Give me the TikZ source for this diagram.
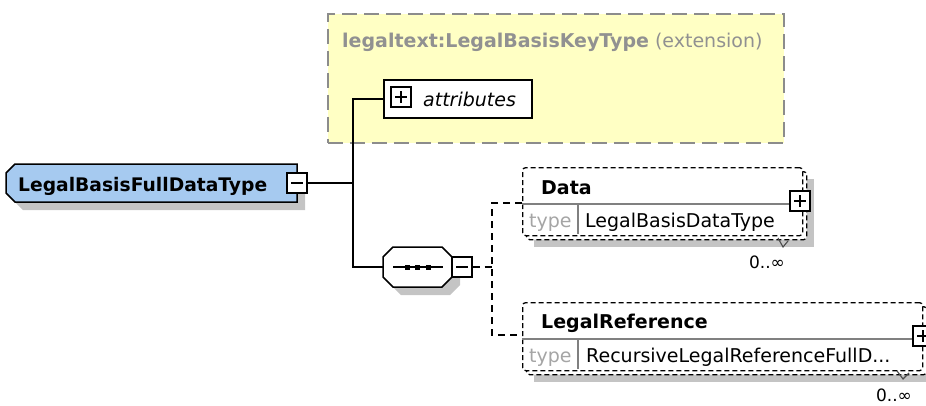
\documentclass[tikz,border=0pt]{standalone}
\usepackage{fontspec}
\setmainfont{DejaVu Sans}
\definecolor{rootblue}{RGB}{166,202,240}
\definecolor{extyellow}{RGB}{255,255,196}
\definecolor{extgray}{RGB}{140,140,140}
\definecolor{titlegray}{RGB}{145,145,145}
\definecolor{shadowgray}{RGB}{196,196,196}
\definecolor{typegray}{RGB}{165,165,165}
\definecolor{divgray}{RGB}{128,128,128}
\tikzset{
  conn/.style={line width=1.5pt, black},
  dconn/.style={line width=1.5pt, black, dash pattern=on 7pt off 5pt},
  elbox/.style={draw, fill=white, line width=1.3pt, dash pattern=on 5pt off 3pt, rounded corners=3pt, anchor=north west, inner sep=0pt},
  divline/.style={line width=1.2pt, divgray},
  txt/.style={anchor=base west, inner sep=0pt, font=\fontsize{19}{22}\selectfont},
  nametxt/.style={txt, font=\fontsize{19}{22}\selectfont\bfseries},
  typetxt/.style={txt, text=typegray},
  occtxt/.style={anchor=center, inner sep=0pt, font=\fontsize{17}{20}\selectfont},
  pmbox/.style={draw, fill=white, line width=1.3pt, minimum size=20pt, inner sep=0pt},
  plusbox/.style={pmbox, path picture={\draw[line width=1.3pt] ([xshift=-6pt]path picture bounding box.center) -- ([xshift=6pt]path picture bounding box.center) ([yshift=-6pt]path picture bounding box.center) -- ([yshift=6pt]path picture bounding box.center);}},
  minusbox/.style={pmbox, path picture={\draw[line width=1.3pt] ([xshift=-6pt]path picture bounding box.center) -- ([xshift=6pt]path picture bounding box.center);}},
  occmark/.style={line width=1.1pt, black!70},
}
\begin{document}
\begin{tikzpicture}[x=1pt,y=-1pt]
\useasboundingbox (0,0) rectangle (926,405);
\clip (0,0) rectangle (926,405);
% extension
\node[draw=extgray, fill=extyellow, line width=1.5pt, dash pattern=on 15pt off 7pt, minimum width=456pt, minimum height=129pt, anchor=north west, inner sep=0pt] (ext) at (327,13) {};
\node[txt, text=titlegray] (exttitle) at (342,47) {{\bfseries legaltext:LegalBasisKeyType} (extension)};
% attributes
\node[draw, fill=white, line width=1.5pt, minimum width=148pt, minimum height=38pt, anchor=north west, inner sep=0pt] (attr) at (383,79) {};
\node[plusbox] (attrplus) at (401,97) {};
\node[txt, font=\fontsize{19}{22}\selectfont\itshape] (attrtxt) at (423,106) {attributes};
% root
\fill[shadowgray] (23,172) -- (305,172) -- (305,210) -- (23,210) -- (14,201) -- (14,181) -- cycle;
\draw[fill=rootblue, line width=1.5pt] (15,164) -- (297,164) -- (297,202) -- (15,202) -- (6,193) -- (6,173) -- cycle;
\node[nametxt, font=\fontsize{18.7}{22}\selectfont\bfseries] (root) at (18,191) {LegalBasisFullDataType};
\node[minusbox] (rootminus) at (297,183) {};
% sequence
\fill[shadowgray] (401,255) -- (450,255) -- (460,265) -- (460,285) -- (450,295) -- (401,295) -- (391,285) -- (391,265) -- cycle;
\node[minimum width=69pt, minimum height=40pt, inner sep=0pt] (seq) at (417.5,267) {};
\draw[fill=white, line width=1.5pt] (393,247) -- (442,247) -- (452,257) -- (452,277) -- (442,287) -- (393,287) -- (383,277) -- (383,257) -- cycle;
\draw[line width=1.5pt] (393,267) -- (443,267);
\foreach \x in {407,417.5,428} \fill (\x-2.5,264.5) rectangle (\x+2.5,269.5);
\node[minusbox] (seqminus) at (462,267) {};
% connectors
\coordinate (j) at (353,183);
\draw[conn] (rootminus.east) -- (j);
\draw[conn] (attr.west) -| (j);
\draw[conn] (seq.west) -| (j);
\coordinate (k) at (492,267);
\coordinate (datain) at (522,203);
\coordinate (refin) at (522,335);
\draw[dconn] (seqminus.east) -- (k);
\draw[dconn] (datain) -| (k) |- (refin);
% Data
\fill[shadowgray] (534,179) rectangle (814,247);
\node[elbox, minimum width=280pt, minimum height=68pt] (databack) at (526,171) {};
\node[elbox, minimum width=280pt, minimum height=68pt] (data) at (522,167) {};
\node[plusbox] (dataplus) at (800,201) {};
\draw[divline] (522,204) -- (dataplus.west |- 0,204);
\draw[divline] (578,204) -- (578,234);
\node[nametxt] (dataname) at (541,194) {Data};
\node[typetxt] (datatype) at (529,227) {type};
\node[txt] (datatypename) at (585,227) {LegalBasisDataType};
\draw[occmark] (778,238) -- (783,247) -- (788,241);
\node[occtxt] (dataocc) at (767,262) {0..∞};
% LegalReference
\fill[shadowgray] (534,314) rectangle (934,382);
\node[elbox, minimum width=400pt, minimum height=68pt] (refback) at (526,306) {};
\node[elbox, minimum width=400pt, minimum height=68pt] (ref) at (522,302) {};
\node[plusbox] (refplus) at (923,336) {};
\draw[divline] (522,339) -- (refplus.west |- 0,339);
\draw[divline] (578,339) -- (578,369);
\node[nametxt] (refname) at (541,328) {LegalReference};
\node[typetxt] (reftype) at (529,362) {type};
\node[txt] (reftypename) at (586,362) {RecursiveLegalReferenceFullD...};
\draw[occmark] (897,371) -- (903,379) -- (909,373);
\node[occtxt] (refocc) at (894,395) {0..∞};
\end{tikzpicture}
\end{document}
